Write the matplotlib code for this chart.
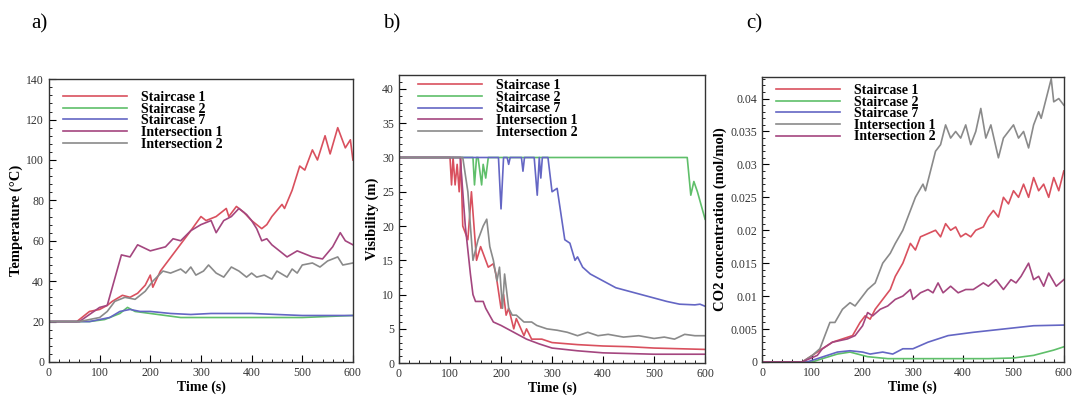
import matplotlib
matplotlib.use("Agg")
import matplotlib.pyplot as plt
from matplotlib.ticker import MultipleLocator, AutoMinorLocator, FuncFormatter

plt.rcParams["font.family"] = ["Liberation Serif", "DejaVu Serif"]

# ---- colours / labels ----
C_RED, C_GREEN, C_BLUE, C_PURPLE, C_GRAY = "#d9505e", "#5fbf6a", "#6466c4", "#a4467f", "#8a8a8a"
LABELS = ["Staircase 1", "Staircase 2", "Staircase 7", "Intersection 1", "Intersection 2"]

# ---- a) temperature (°C) ----
a_s1_t = [0, 55, 80, 100, 115, 125, 145, 160, 175, 190, 200, 205, 220, 235, 250, 265, 280, 300, 310, 330, 350,
          355, 370, 385, 400, 410, 420, 430, 440, 460, 465, 480, 495, 505, 520, 530, 545, 555, 570, 585, 595, 600]
a_s1_v = [20, 20, 25, 26, 28, 30, 33, 32, 34, 38, 43, 37, 45, 50, 55, 60, 65, 72, 70, 72, 76,
          72, 77, 74, 70, 68, 66, 68, 72, 78, 76, 85, 97, 95, 105, 100, 112, 103, 116, 106, 110, 100]
a_s2_t = [0, 80, 110, 140, 155, 170, 200, 230, 260, 400, 500, 600]
a_s2_v = [20, 20, 21, 24, 27, 25, 24, 23, 22, 22, 22, 23]
a_s7_t = [0, 80, 120, 140, 160, 180, 200, 240, 280, 320, 400, 450, 500, 600]
a_s7_v = [20, 20, 22, 25, 26, 25, 25, 24, 23.5, 24, 24, 23.5, 23, 23]
a_i1_t = [0, 60, 100, 115, 143, 160, 175, 200, 230, 245, 260, 280, 300, 320, 330, 345, 360, 375, 390, 400,
          410, 420, 430, 440, 450, 470, 490, 500, 520, 540, 550, 560, 575, 585, 600]
a_i1_v = [20, 20, 27, 28, 53, 52, 58, 55, 57, 61, 60, 65, 68, 70, 64, 70, 72, 76, 73, 70,
          66, 60, 61, 58, 56, 52, 55, 54, 52, 51, 54, 57, 64, 60, 58]
a_i2_t = [0, 60, 100, 115, 130, 150, 170, 190, 205, 225, 240, 260, 270, 280, 290, 305, 315, 330, 345, 360,
          375, 390, 400, 410, 425, 440, 450, 470, 480, 490, 500, 520, 535, 550, 570, 580, 600]
a_i2_v = [20, 20, 22, 25, 30, 32, 31, 35, 40, 45, 44, 46, 44, 47, 43, 45, 48, 44, 42, 47,
          45, 42, 44, 42, 43, 41, 45, 42, 46, 44, 48, 49, 47, 50, 52, 48, 49]

# ---- b) visibility (m) ----
b_s1_t = [0, 100, 103, 106, 110, 114, 118, 121, 125, 135, 142, 152, 160, 175, 185, 190, 200, 205, 210, 215,
          225, 230, 245, 250, 260, 280, 300, 350, 400, 450, 500, 600]
b_s1_v = [30, 30, 26, 30, 26, 29, 25, 30, 20, 18, 25, 15, 17, 14, 14.5, 13, 8, 10, 7, 8,
          5, 6.5, 4, 5, 3.5, 3.5, 3, 2.7, 2.5, 2.4, 2.2, 2.0]
b_s2_t = [0, 145, 148, 152, 155, 162, 165, 170, 175, 565, 572, 578, 585, 600]
b_s2_v = [30, 30, 26, 30, 30, 26, 29, 27, 30, 30, 24.5, 26.5, 25, 21]
b_s7_t = [0, 195, 200, 205, 212, 215, 218, 240, 243, 246, 265, 271, 275, 278, 281, 284, 292, 300, 310, 325,
          335, 345, 350, 360, 375, 400, 425, 450, 475, 500, 525, 550, 580, 590, 600]
b_s7_v = [30, 30, 22.5, 30, 30, 29, 30, 30, 28, 30, 30, 24.5, 30, 27, 30, 30, 30, 25, 25.5, 18,
          17.5, 15, 15.5, 14, 13, 12, 11, 10.5, 10, 9.5, 9, 8.6, 8.5, 8.6, 8.3]
b_i1_t = [0, 100, 120, 130, 140, 145, 150, 165, 170, 185, 200, 225, 250, 275, 300, 350, 400, 450, 500, 600]
b_i1_v = [30, 30, 30, 20, 13, 10, 9, 9, 8, 6, 5.5, 4.5, 3.5, 2.8, 2.2, 1.8, 1.5, 1.4, 1.3, 1.3]
b_i2_t = [0, 125, 135, 145, 155, 165, 172, 178, 185, 192, 197, 203, 207, 215, 222, 230, 245, 260, 270, 290,
          310, 330, 350, 370, 390, 410, 440, 470, 500, 520, 540, 560, 580, 600]
b_i2_v = [30, 30, 25, 15, 18, 20, 21, 17, 15, 12, 14, 8, 13, 8, 7, 7, 6, 6, 5.5, 5,
          4.8, 4.5, 4, 4.5, 4, 4.2, 3.8, 4, 3.6, 3.8, 3.5, 4.2, 4, 4]

# ---- c) CO2 concentration (mol/mol) ----
c_s1_t = [0, 80, 100, 120, 140, 160, 180, 195, 205, 215, 225, 240, 255, 265, 280, 295, 305, 315, 330, 345,
          355, 365, 375, 385, 395, 405, 415, 425, 440, 450, 460, 470, 480, 490, 500, 510, 520, 530, 540, 550,
          560, 570, 580, 590, 600]
c_s1_v = [0, 0, 0.001, 0.002, 0.003, 0.0035, 0.004, 0.006, 0.007, 0.0065, 0.008, 0.0095, 0.011, 0.013, 0.015,
          0.018, 0.017, 0.019, 0.0195, 0.020, 0.019, 0.021, 0.020, 0.0205, 0.019, 0.0195, 0.019, 0.020, 0.0205,
          0.022, 0.023, 0.022, 0.025, 0.024, 0.026, 0.025, 0.027, 0.025, 0.028, 0.026, 0.027, 0.025, 0.028,
          0.026, 0.029]
c_s2_t = [0, 100, 120, 150, 175, 210, 250, 350, 450, 500, 540, 580, 600]
c_s2_v = [0, 0, 0.0005, 0.0012, 0.0015, 0.0008, 0.0005, 0.0005, 0.0005, 0.0006, 0.001, 0.0018, 0.0023]
c_s7_t = [0, 90, 110, 130, 150, 175, 200, 215, 240, 260, 280, 300, 330, 370, 420, 480, 540, 600]
c_s7_v = [0, 0, 0.0005, 0.001, 0.0015, 0.0017, 0.0015, 0.0012, 0.0015, 0.0012, 0.002, 0.002, 0.003, 0.004,
          0.0045, 0.005, 0.0055, 0.0056]
c_i1_t = [0, 80, 100, 115, 125, 135, 145, 160, 175, 185, 200, 210, 225, 240, 255, 265, 280, 290, 305, 320,
          325, 335, 345, 355, 365, 375, 385, 395, 405, 415, 425, 435, 445, 455, 470, 480, 490, 500, 510, 520,
          530, 540, 550, 555, 565, 575, 580, 590, 600]
c_i1_v = [0, 0, 0.001, 0.002, 0.004, 0.006, 0.006, 0.008, 0.009, 0.0085, 0.010, 0.011, 0.012, 0.015, 0.0165,
          0.018, 0.020, 0.022, 0.025, 0.027, 0.026, 0.029, 0.032, 0.033, 0.036, 0.034, 0.035, 0.034, 0.036,
          0.033, 0.035, 0.0385, 0.034, 0.036, 0.031, 0.034, 0.035, 0.036, 0.034, 0.035, 0.0325, 0.036, 0.038,
          0.037, 0.040, 0.043, 0.0395, 0.040, 0.039]
c_i2_t = [0, 80, 110, 120, 140, 170, 185, 200, 210, 220, 235, 250, 265, 280, 295, 300, 315, 330, 340, 350,
          360, 375, 390, 405, 420, 440, 450, 465, 480, 495, 505, 515, 530, 540, 550, 560, 570, 585, 600]
c_i2_v = [0, 0, 0.001, 0.002, 0.003, 0.0035, 0.004, 0.0055, 0.0075, 0.007, 0.008, 0.0085, 0.0095, 0.010,
          0.011, 0.0095, 0.0105, 0.011, 0.0105, 0.012, 0.0105, 0.0115, 0.0105, 0.011, 0.011, 0.012, 0.0115,
          0.0125, 0.011, 0.0125, 0.012, 0.013, 0.015, 0.0125, 0.013, 0.0115, 0.0135, 0.0115, 0.0125]

fig = plt.figure(figsize=(10.74, 3.96), dpi=100)
ax_a = fig.add_axes([0.0456, 0.086, 0.283, 0.714])
ax_b = fig.add_axes([0.3715, 0.083, 0.285, 0.727])
ax_c = fig.add_axes([0.7095, 0.086, 0.281, 0.720])

lw = 1.2
ax_a.plot(a_s1_t, a_s1_v, color=C_RED, lw=lw)
ax_a.plot(a_s2_t, a_s2_v, color=C_GREEN, lw=lw)
ax_a.plot(a_s7_t, a_s7_v, color=C_BLUE, lw=lw)
ax_a.plot(a_i1_t, a_i1_v, color=C_PURPLE, lw=lw)
ax_a.plot(a_i2_t, a_i2_v, color=C_GRAY, lw=lw)

ax_b.plot(b_s1_t, b_s1_v, color=C_RED, lw=lw)
ax_b.plot(b_s2_t, b_s2_v, color=C_GREEN, lw=lw)
ax_b.plot(b_s7_t, b_s7_v, color=C_BLUE, lw=lw)
ax_b.plot(b_i1_t, b_i1_v, color=C_PURPLE, lw=lw)
ax_b.plot(b_i2_t, b_i2_v, color=C_GRAY, lw=lw)

# in c) the colours of the two intersections are swapped
ax_c.plot(c_s1_t, c_s1_v, color=C_RED, lw=lw)
ax_c.plot(c_s2_t, c_s2_v, color=C_GREEN, lw=lw)
ax_c.plot(c_s7_t, c_s7_v, color=C_BLUE, lw=lw)
ax_c.plot(c_i1_t, c_i1_v, color=C_GRAY, lw=lw)
ax_c.plot(c_i2_t, c_i2_v, color=C_PURPLE, lw=lw)

ax_a.set_ylim(0, 140); ax_a.yaxis.set_major_locator(MultipleLocator(20))
ax_b.set_ylim(0, 42); ax_b.yaxis.set_major_locator(MultipleLocator(5))
ax_c.set_ylim(0, 0.0433); ax_c.yaxis.set_major_locator(MultipleLocator(0.005))
ax_c.yaxis.set_major_formatter(FuncFormatter(lambda v, p: "%g" % round(v, 4)))

ylabels = ["Temperature (°C)", "Visibility (m)", "CO2 concentration (mol/mol)"]
tag_x = [0.029, 0.357, 0.695]
leg_anchor = [(0.046, 0.958), (0.062, 0.986), (0.046, 0.975)]
for ax, yl, tag, tx, anc in zip([ax_a, ax_b, ax_c], ylabels, ["a)", "b)", "c)"], tag_x, leg_anchor):
    ax.set_xlim(0, 600)
    ax.xaxis.set_major_locator(MultipleLocator(100))
    ax.xaxis.set_minor_locator(AutoMinorLocator(5))
    ax.yaxis.set_minor_locator(AutoMinorLocator(5))
    ax.tick_params(which="both", direction="in", labelsize=8.5, labelcolor="#333333",
                   top=False, right=False)
    ax.tick_params(which="major", length=5)
    ax.tick_params(which="minor", length=2.5)
    ax.set_xlabel("Time (s)", fontsize=10, fontweight="bold", labelpad=1)
    ax.set_ylabel(yl, fontsize=10.5, fontweight="bold", labelpad=2)
    for sp in ax.spines.values():
        sp.set_linewidth(1.0)
        sp.set_color("#333333")
    ax.legend(LABELS, loc="upper left", bbox_to_anchor=anc, frameon=False,
              prop={"weight": "bold", "size": 10}, handlelength=4.6,
              labelspacing=-0.1, borderaxespad=0, borderpad=0, handletextpad=1.0)
    fig.text(tx, 0.94, tag, fontsize=15, va="center", ha="left")

fig.savefig("out.png", dpi=100)
